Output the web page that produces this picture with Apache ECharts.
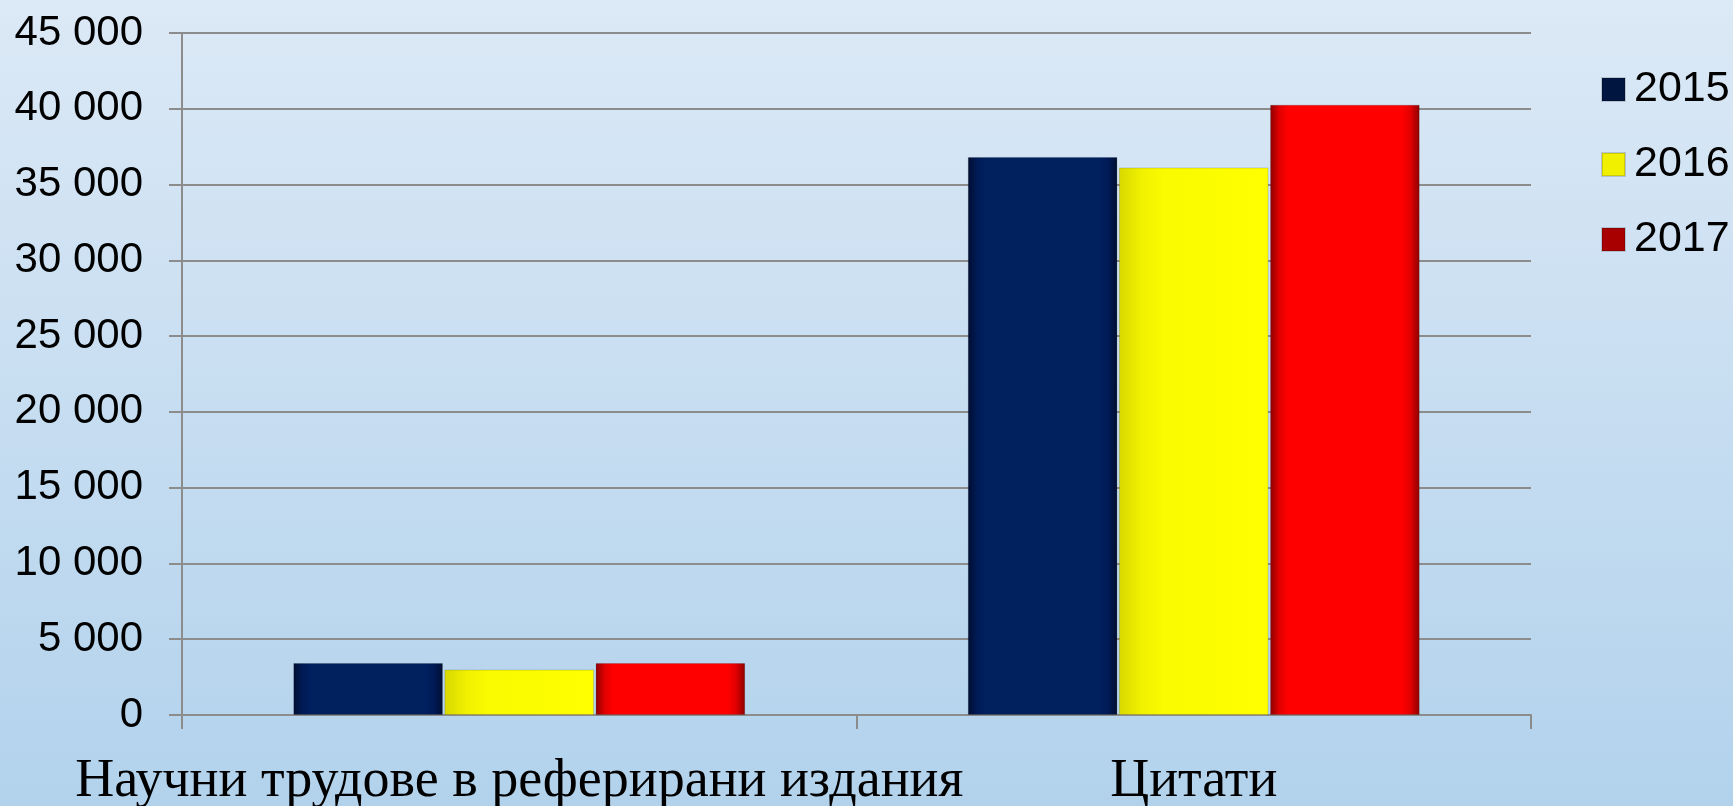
<!DOCTYPE html>
<html>
<head>
    <meta charset="utf-8">
    <title>Научни трудове и цитати</title>
    <style>
        html, body { margin: 0; padding: 0; }
        #chart1 { width: 1733px; height: 806px; }
    </style>
</head>
<body>
<div id="chart1"></div>
<script src="https://cdn.jsdelivr.net/npm/echarts@6/dist/echarts.min.js"></script>
<script type="text/javascript">
    // данни
    const categories = ['Научни трудове в реферирани издания', 'Цитати'];
    const years = ['2015', '2016', '2017'];
    const values2015 = [3430, 36820];
    const values2016 = [3000, 36130];
    const values2017 = [3430, 40270];
    const yTicks = [0, 5000, 10000, 15000, 20000, 25000, 30000, 35000, 40000, 45000];

    // цветове с лек "релефен" ефект
    function hGrad(stops) {
        return new echarts.graphic.LinearGradient(0, 0, 1, 0, stops);
    }
    const navyFill = hGrad([
        { offset: 0, color: '#000e30' }, { offset: 0.06, color: '#001a55' },
        { offset: 0.12, color: '#00205e' }, { offset: 0.88, color: '#00205e' },
        { offset: 0.94, color: '#001a55' }, { offset: 1, color: '#000e30' }
    ]);
    const yellowFill = hGrad([
        { offset: 0, color: '#d8d800' }, { offset: 0.16, color: '#f2f200' },
        { offset: 0.3, color: '#fafa00' }, { offset: 1, color: '#ffff00' }
    ]);
    const redFill = hGrad([
        { offset: 0, color: '#8a0000' }, { offset: 0.06, color: '#e00000' },
        { offset: 0.12, color: '#ff0000' }, { offset: 0.88, color: '#ff0000' },
        { offset: 0.94, color: '#e00000' }, { offset: 1, color: '#8a0000' }
    ]);
    const legendColors = ['#001540', '#f0f000', '#a80000'];

    let myChart1 = echarts.init(document.getElementById('chart1'));

    const seriesData = [values2015, values2016, values2017];
    const fills = [navyFill, yellowFill, redFill];

    myChart1.setOption({
        animation: false,
        backgroundColor: new echarts.graphic.LinearGradient(0, 0, 0, 1, [
            { offset: 0, color: '#dce9f6' },
            { offset: 1, color: '#b2d2ec' }
        ]),
        textStyle: { fontFamily: 'Liberation Sans, Arial, sans-serif' },
        grid: {
            left: 182, right: 202, top: 33, bottom: 91,
            containLabel: false,
            outerBoundsMode: 'none'
        },
        legend: {
            orient: 'vertical',
            left: 1596,
            top: 63,
            itemWidth: 23,
            itemHeight: 23,
            itemGap: 32,
            icon: 'rect',
            textStyle: { fontSize: 43, color: '#000', padding: [0, 0, 0, 4] },
            data: years.map((y, i) => ({ name: y, itemStyle: { color: legendColors[i] } }))
        },
        xAxis: {
            type: 'category',
            data: categories,
            axisLine: { lineStyle: { color: '#8c8c8c', width: 2 } },
            axisTick: { show: true, length: 14, lineStyle: { color: '#8c8c8c', width: 2 } },
            axisLabel: {
                fontFamily: 'Liberation Serif, Times New Roman, serif',
                fontSize: 54,
                color: '#000',
                margin: 40,
                interval: 0
            }
        },
        yAxis: {
            type: 'value',
            min: 0,
            max: 45000,
            interval: 5000,
            axisLine: { show: true, lineStyle: { color: '#8c8c8c', width: 2 } },
            axisTick: { show: true, length: 13, lineStyle: { color: '#8c8c8c', width: 2 } },
            splitLine: { lineStyle: { color: '#8c8c8c', width: 2 } },
            axisLabel: {
                fontSize: 42,
                color: '#000',
                margin: 39,
                customValues: yTicks,
                formatter: (v) => String(v).replace(/\B(?=(\d{3})+(?!\d))/g, ' ')
            }
        },
        series: years.map((y, i) => ({
            name: y,
            type: 'bar',
            barGap: '1%',
            barCategoryGap: '33%',
            data: seriesData[i],
            itemStyle: {
                color: fills[i],
                borderColor: 'rgba(0,0,0,0.15)',
                borderWidth: 1
            }
        }))
    });
</script>
</body>
</html>
